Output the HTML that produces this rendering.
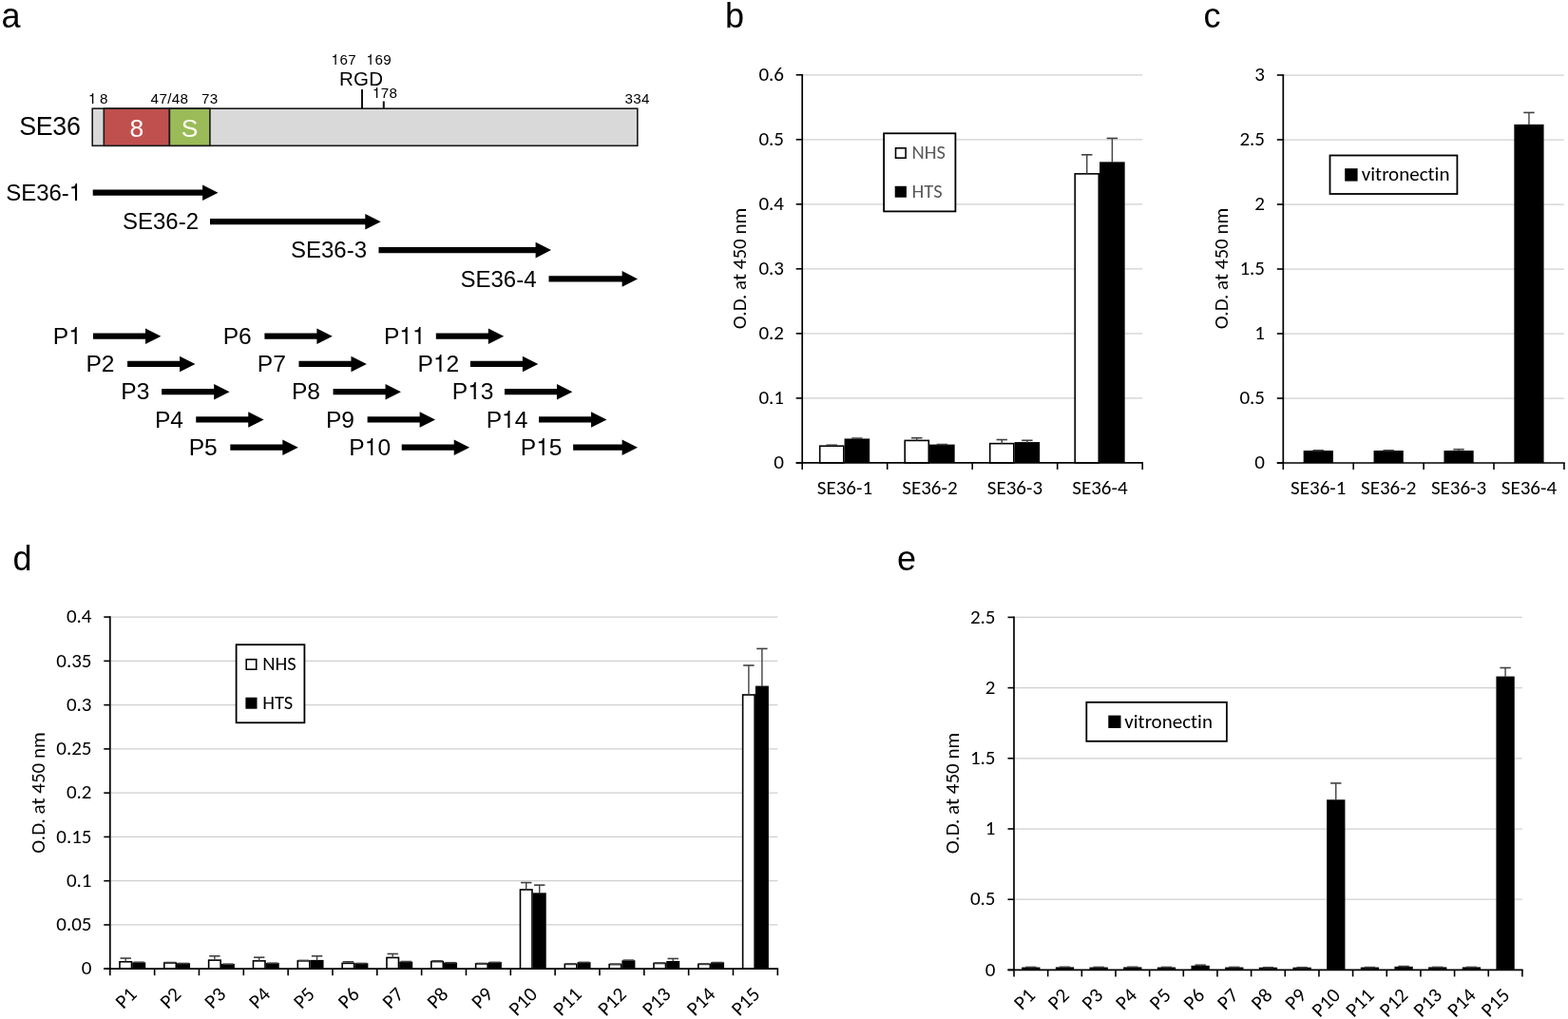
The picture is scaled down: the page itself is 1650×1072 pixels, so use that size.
<!DOCTYPE html>
<html><head><meta charset="utf-8"><title>SE36 figure</title>
<style>
html,body{margin:0;padding:0;background:#fff;}
body{width:1650px;height:1072px;overflow:hidden;}
svg{display:block;}
text{font-variant-ligatures:none;font-feature-settings:"liga" 0,"clig" 0;}
</style></head>
<body>
<svg width="1650" height="1072" viewBox="0 0 1650 1072">
<rect x="0" y="0" width="1650" height="1072" fill="#fff"/>
<text x="1.5" y="29" font-size="36" font-family="'Liberation Sans', Arial, sans-serif" text-anchor="start" fill="#000" >a</text>
<text x="763" y="28.8" font-size="36" font-family="'Liberation Sans', Arial, sans-serif" text-anchor="start" fill="#000" >b</text>
<text x="1266.5" y="29" font-size="36" font-family="'Liberation Sans', Arial, sans-serif" text-anchor="start" fill="#000" >c</text>
<text x="13.5" y="599.5" font-size="36" font-family="'Liberation Sans', Arial, sans-serif" text-anchor="start" fill="#000" >d</text>
<text x="944" y="599.8" font-size="36" font-family="'Liberation Sans', Arial, sans-serif" text-anchor="start" fill="#000" >e</text>
<rect x="97.2" y="114.2" width="573.6" height="39.1" fill="#D9D9D9" stroke="#1a1a1a" stroke-width="1.6"/>
<rect x="109.3" y="114.2" width="69.1" height="39.1" fill="#C0504D" stroke="#1a1a1a" stroke-width="1.6"/>
<rect x="178.4" y="114.2" width="42.5" height="39.1" fill="#9BBB59" stroke="#1a1a1a" stroke-width="1.6"/>
<text x="143.8" y="144.3" font-size="26.5" font-family="'Liberation Sans', Arial, sans-serif" text-anchor="middle" fill="#fff" >8</text>
<text x="199.6" y="144.3" font-size="26.5" font-family="'Liberation Sans', Arial, sans-serif" text-anchor="middle" fill="#fcfff0" >S</text>
<text x="20.2" y="142.3" font-size="26.8" font-family="'Liberation Sans', Arial, sans-serif" text-anchor="start" fill="#000" letter-spacing="-0.3">SE36</text>
<text x="93" y="108.6" font-size="15.2" font-family="'Liberation Sans', Arial, sans-serif" text-anchor="start" fill="#000" ><tspan font-family="FreeSans, 'TeX Gyre Heros', 'Liberation Sans', sans-serif">1</tspan></text>
<text x="105" y="108.6" font-size="15.2" font-family="'Liberation Sans', Arial, sans-serif" text-anchor="start" fill="#000" >8</text>
<text x="158.6" y="108.6" font-size="15.2" font-family="'Liberation Sans', Arial, sans-serif" text-anchor="start" fill="#000" letter-spacing="0.35">47/48</text>
<text x="212" y="108.6" font-size="15.2" font-family="'Liberation Sans', Arial, sans-serif" text-anchor="start" fill="#000" letter-spacing="0.35">73</text>
<text x="657.5" y="108.6" font-size="15.2" font-family="'Liberation Sans', Arial, sans-serif" text-anchor="start" fill="#000" letter-spacing="0.35">334</text>
<text x="348.6" y="68.3" font-size="15.2" font-family="'Liberation Sans', Arial, sans-serif" text-anchor="start" fill="#000" letter-spacing="0.35"><tspan font-family="FreeSans, 'TeX Gyre Heros', 'Liberation Sans', sans-serif">1</tspan>67</text>
<text x="385.6" y="68.3" font-size="15.2" font-family="'Liberation Sans', Arial, sans-serif" text-anchor="start" fill="#000" letter-spacing="0.35"><tspan font-family="FreeSans, 'TeX Gyre Heros', 'Liberation Sans', sans-serif">1</tspan>69</text>
<text x="391.9" y="103.2" font-size="15.2" font-family="'Liberation Sans', Arial, sans-serif" text-anchor="start" fill="#000" letter-spacing="0.35"><tspan font-family="FreeSans, 'TeX Gyre Heros', 'Liberation Sans', sans-serif">1</tspan>78</text>
<text x="357" y="89.8" font-size="20.5" font-family="'Liberation Sans', Arial, sans-serif" text-anchor="start" fill="#000" letter-spacing="0.3">RGD</text>
<line x1="381" y1="94" x2="381" y2="114" stroke="#111" stroke-width="2"/>
<line x1="403.8" y1="106.5" x2="403.8" y2="114" stroke="#111" stroke-width="2"/>
<polygon fill="#000" points="97.7,199.6 213.1,199.6 213.1,194.4 229.5,202.7 213.1,211 213.1,205.8 97.7,205.8"/>
<text transform="translate(86.2,210.9) scale(1.03,1)" x="0" y="0" font-size="23.3" font-family="'Liberation Sans', Arial, sans-serif" text-anchor="end" fill="#000" >SE36-<tspan font-family="FreeSans, 'TeX Gyre Heros', 'Liberation Sans', sans-serif">1</tspan></text>
<polygon fill="#000" points="221,230.1 384.3,230.1 384.3,224.9 400.7,233.2 384.3,241.5 384.3,236.3 221,236.3"/>
<text transform="translate(209,241.4) scale(1.03,1)" x="0" y="0" font-size="23.3" font-family="'Liberation Sans', Arial, sans-serif" text-anchor="end" fill="#000" >SE36-2</text>
<polygon fill="#000" points="398.5,260 563.6,260 563.6,254.8 580,263.1 563.6,271.4 563.6,266.2 398.5,266.2"/>
<text transform="translate(386,271.3) scale(1.03,1)" x="0" y="0" font-size="23.3" font-family="'Liberation Sans', Arial, sans-serif" text-anchor="end" fill="#000" >SE36-3</text>
<polygon fill="#000" points="577.5,290.3 654.6,290.3 654.6,285.1 671,293.4 654.6,301.7 654.6,296.5 577.5,296.5"/>
<text transform="translate(564.5,301.6) scale(1.03,1)" x="0" y="0" font-size="23.3" font-family="'Liberation Sans', Arial, sans-serif" text-anchor="end" fill="#000" >SE36-4</text>
<polygon fill="#000" points="98,350.6 153,350.6 153,345.4 169.4,353.7 153,362 153,356.8 98,356.8"/>
<text transform="translate(85.9,361.9) scale(1.07,1)" x="0" y="0" font-size="23" font-family="'Liberation Sans', Arial, sans-serif" text-anchor="end" fill="#000" >P<tspan font-family="FreeSans, 'TeX Gyre Heros', 'Liberation Sans', sans-serif">1</tspan></text>
<polygon fill="#000" points="134.08,379.85 189.08,379.85 189.08,374.65 205.48,382.95 189.08,391.25 189.08,386.05 134.08,386.05"/>
<text transform="translate(120.48,391.15) scale(1.07,1)" x="0" y="0" font-size="23" font-family="'Liberation Sans', Arial, sans-serif" text-anchor="end" fill="#000" >P2</text>
<polygon fill="#000" points="170.16,409.1 225.16,409.1 225.16,403.9 241.56,412.2 225.16,420.5 225.16,415.3 170.16,415.3"/>
<text transform="translate(157.36,420.4) scale(1.07,1)" x="0" y="0" font-size="23" font-family="'Liberation Sans', Arial, sans-serif" text-anchor="end" fill="#000" >P3</text>
<polygon fill="#000" points="206.24,438.35 261.24,438.35 261.24,433.15 277.64,441.45 261.24,449.75 261.24,444.55 206.24,444.55"/>
<text transform="translate(193.04,449.65) scale(1.07,1)" x="0" y="0" font-size="23" font-family="'Liberation Sans', Arial, sans-serif" text-anchor="end" fill="#000" >P4</text>
<polygon fill="#000" points="242.32,467.6 297.32,467.6 297.32,462.4 313.72,470.7 297.32,479 297.32,473.8 242.32,473.8"/>
<text transform="translate(228.72,478.9) scale(1.07,1)" x="0" y="0" font-size="23" font-family="'Liberation Sans', Arial, sans-serif" text-anchor="end" fill="#000" >P5</text>
<polygon fill="#000" points="278.4,350.6 333.4,350.6 333.4,345.4 349.8,353.7 333.4,362 333.4,356.8 278.4,356.8"/>
<text transform="translate(264.8,361.9) scale(1.07,1)" x="0" y="0" font-size="23" font-family="'Liberation Sans', Arial, sans-serif" text-anchor="end" fill="#000" >P6</text>
<polygon fill="#000" points="314.48,379.85 369.48,379.85 369.48,374.65 385.88,382.95 369.48,391.25 369.48,386.05 314.48,386.05"/>
<text transform="translate(300.88,391.15) scale(1.07,1)" x="0" y="0" font-size="23" font-family="'Liberation Sans', Arial, sans-serif" text-anchor="end" fill="#000" >P7</text>
<polygon fill="#000" points="350.56,409.1 405.56,409.1 405.56,403.9 421.96,412.2 405.56,420.5 405.56,415.3 350.56,415.3"/>
<text transform="translate(336.96,420.4) scale(1.07,1)" x="0" y="0" font-size="23" font-family="'Liberation Sans', Arial, sans-serif" text-anchor="end" fill="#000" >P8</text>
<polygon fill="#000" points="386.64,438.35 441.64,438.35 441.64,433.15 458.04,441.45 441.64,449.75 441.64,444.55 386.64,444.55"/>
<text transform="translate(373.04,449.65) scale(1.07,1)" x="0" y="0" font-size="23" font-family="'Liberation Sans', Arial, sans-serif" text-anchor="end" fill="#000" >P9</text>
<polygon fill="#000" points="422.72,467.6 477.72,467.6 477.72,462.4 494.12,470.7 477.72,479 477.72,473.8 422.72,473.8"/>
<text transform="translate(411.12,478.9) scale(1.07,1)" x="0" y="0" font-size="23" font-family="'Liberation Sans', Arial, sans-serif" text-anchor="end" fill="#000" >P<tspan font-family="FreeSans, 'TeX Gyre Heros', 'Liberation Sans', sans-serif">1</tspan>0</text>
<polygon fill="#000" points="458.8,350.6 513.8,350.6 513.8,345.4 530.2,353.7 513.8,362 513.8,356.8 458.8,356.8"/>
<text transform="translate(447.7,361.9) scale(1.07,1)" x="0" y="0" font-size="23" font-family="'Liberation Sans', Arial, sans-serif" text-anchor="end" fill="#000" >P<tspan font-family="FreeSans, 'TeX Gyre Heros', 'Liberation Sans', sans-serif">1</tspan><tspan font-family="FreeSans, 'TeX Gyre Heros', 'Liberation Sans', sans-serif">1</tspan></text>
<polygon fill="#000" points="494.88,379.85 549.88,379.85 549.88,374.65 566.28,382.95 549.88,391.25 549.88,386.05 494.88,386.05"/>
<text transform="translate(483.28,391.15) scale(1.07,1)" x="0" y="0" font-size="23" font-family="'Liberation Sans', Arial, sans-serif" text-anchor="end" fill="#000" >P<tspan font-family="FreeSans, 'TeX Gyre Heros', 'Liberation Sans', sans-serif">1</tspan>2</text>
<polygon fill="#000" points="530.96,409.1 585.96,409.1 585.96,403.9 602.36,412.2 585.96,420.5 585.96,415.3 530.96,415.3"/>
<text transform="translate(519.56,420.4) scale(1.07,1)" x="0" y="0" font-size="23" font-family="'Liberation Sans', Arial, sans-serif" text-anchor="end" fill="#000" >P<tspan font-family="FreeSans, 'TeX Gyre Heros', 'Liberation Sans', sans-serif">1</tspan>3</text>
<polygon fill="#000" points="567.04,438.35 622.04,438.35 622.04,433.15 638.44,441.45 622.04,449.75 622.04,444.55 567.04,444.55"/>
<text transform="translate(555.44,449.65) scale(1.07,1)" x="0" y="0" font-size="23" font-family="'Liberation Sans', Arial, sans-serif" text-anchor="end" fill="#000" >P<tspan font-family="FreeSans, 'TeX Gyre Heros', 'Liberation Sans', sans-serif">1</tspan>4</text>
<polygon fill="#000" points="603.12,467.6 654.6,467.6 654.6,462.4 671,470.7 654.6,479 654.6,473.8 603.12,473.8"/>
<text transform="translate(591.52,478.9) scale(1.07,1)" x="0" y="0" font-size="23" font-family="'Liberation Sans', Arial, sans-serif" text-anchor="end" fill="#000" >P<tspan font-family="FreeSans, 'TeX Gyre Heros', 'Liberation Sans', sans-serif">1</tspan>5</text>
<line x1="844.2" y1="418.88" x2="1202.2" y2="418.88" stroke="#D0D0D0" stroke-width="1.25"/>
<line x1="844.2" y1="350.87" x2="1202.2" y2="350.87" stroke="#D0D0D0" stroke-width="1.25"/>
<line x1="844.2" y1="282.85" x2="1202.2" y2="282.85" stroke="#D0D0D0" stroke-width="1.25"/>
<line x1="844.2" y1="214.83" x2="1202.2" y2="214.83" stroke="#D0D0D0" stroke-width="1.25"/>
<line x1="844.2" y1="146.82" x2="1202.2" y2="146.82" stroke="#D0D0D0" stroke-width="1.25"/>
<line x1="844.2" y1="78.8" x2="1202.2" y2="78.8" stroke="#D0D0D0" stroke-width="1.25"/>
<line x1="837.7" y1="486.9" x2="844.2" y2="486.9" stroke="#000" stroke-width="1.6"/>
<text x="825" y="493.1" font-size="21" font-family="Carlito, Calibri, 'Liberation Sans', sans-serif" text-anchor="end" fill="#000" >0</text>
<line x1="837.7" y1="418.88" x2="844.2" y2="418.88" stroke="#000" stroke-width="1.6"/>
<text x="825" y="425.08" font-size="21" font-family="Carlito, Calibri, 'Liberation Sans', sans-serif" text-anchor="end" fill="#000" >0.1</text>
<line x1="837.7" y1="350.87" x2="844.2" y2="350.87" stroke="#000" stroke-width="1.6"/>
<text x="825" y="357.07" font-size="21" font-family="Carlito, Calibri, 'Liberation Sans', sans-serif" text-anchor="end" fill="#000" >0.2</text>
<line x1="837.7" y1="282.85" x2="844.2" y2="282.85" stroke="#000" stroke-width="1.6"/>
<text x="825" y="289.05" font-size="21" font-family="Carlito, Calibri, 'Liberation Sans', sans-serif" text-anchor="end" fill="#000" >0.3</text>
<line x1="837.7" y1="214.83" x2="844.2" y2="214.83" stroke="#000" stroke-width="1.6"/>
<text x="825" y="221.03" font-size="21" font-family="Carlito, Calibri, 'Liberation Sans', sans-serif" text-anchor="end" fill="#000" >0.4</text>
<line x1="837.7" y1="146.82" x2="844.2" y2="146.82" stroke="#000" stroke-width="1.6"/>
<text x="825" y="153.02" font-size="21" font-family="Carlito, Calibri, 'Liberation Sans', sans-serif" text-anchor="end" fill="#000" >0.5</text>
<line x1="837.7" y1="78.8" x2="844.2" y2="78.8" stroke="#000" stroke-width="1.6"/>
<text x="825" y="85" font-size="21" font-family="Carlito, Calibri, 'Liberation Sans', sans-serif" text-anchor="end" fill="#000" >0.6</text>
<rect x="862.7" y="469.22" width="25.1" height="17.68" fill="#fff" stroke="#000" stroke-width="1.6"/>
<line x1="875.25" y1="469.22" x2="875.25" y2="468.2" stroke="#404040" stroke-width="1.4"/>
<line x1="869.55" y1="468.2" x2="880.95" y2="468.2" stroke="#404040" stroke-width="1.6"/>
<rect x="888.55" y="461.47" width="26.6" height="25.43" fill="#000"/>
<line x1="901.85" y1="462.07" x2="901.85" y2="461.05" stroke="#404040" stroke-width="1.4"/>
<line x1="896.15" y1="461.05" x2="907.55" y2="461.05" stroke="#404040" stroke-width="1.6"/>
<rect x="952.2" y="463.43" width="25.1" height="23.47" fill="#fff" stroke="#000" stroke-width="1.6"/>
<line x1="964.75" y1="463.43" x2="964.75" y2="460.71" stroke="#404040" stroke-width="1.4"/>
<line x1="959.05" y1="460.71" x2="970.45" y2="460.71" stroke="#404040" stroke-width="1.6"/>
<rect x="978.05" y="467.6" width="26.6" height="19.3" fill="#000"/>
<line x1="991.35" y1="468.2" x2="991.35" y2="467.52" stroke="#404040" stroke-width="1.4"/>
<line x1="985.65" y1="467.52" x2="997.05" y2="467.52" stroke="#404040" stroke-width="1.6"/>
<rect x="1041.7" y="466.63" width="25.1" height="20.27" fill="#fff" stroke="#000" stroke-width="1.6"/>
<line x1="1054.25" y1="466.63" x2="1054.25" y2="462.55" stroke="#404040" stroke-width="1.4"/>
<line x1="1048.55" y1="462.55" x2="1059.95" y2="462.55" stroke="#404040" stroke-width="1.6"/>
<rect x="1067.55" y="465.08" width="26.6" height="21.82" fill="#000"/>
<line x1="1080.85" y1="465.68" x2="1080.85" y2="463.3" stroke="#404040" stroke-width="1.4"/>
<line x1="1075.15" y1="463.3" x2="1086.55" y2="463.3" stroke="#404040" stroke-width="1.6"/>
<rect x="1131.2" y="182.87" width="25.1" height="304.03" fill="#fff" stroke="#000" stroke-width="1.6"/>
<line x1="1143.75" y1="182.87" x2="1143.75" y2="162.8" stroke="#404040" stroke-width="1.4"/>
<line x1="1138.05" y1="162.8" x2="1149.45" y2="162.8" stroke="#404040" stroke-width="1.6"/>
<rect x="1157.05" y="170.36" width="26.6" height="316.54" fill="#000"/>
<line x1="1170.35" y1="170.96" x2="1170.35" y2="145.46" stroke="#404040" stroke-width="1.4"/>
<line x1="1164.65" y1="145.46" x2="1176.05" y2="145.46" stroke="#404040" stroke-width="1.6"/>
<line x1="844.2" y1="486.9" x2="844.2" y2="78" stroke="#000" stroke-width="1.7"/>
<line x1="837.7" y1="486.9" x2="1203" y2="486.9" stroke="#000" stroke-width="1.7"/>
<line x1="844.2" y1="486.9" x2="844.2" y2="493.9" stroke="#000" stroke-width="1.6"/>
<line x1="933.7" y1="486.9" x2="933.7" y2="493.9" stroke="#000" stroke-width="1.6"/>
<line x1="1023.2" y1="486.9" x2="1023.2" y2="493.9" stroke="#000" stroke-width="1.6"/>
<line x1="1112.7" y1="486.9" x2="1112.7" y2="493.9" stroke="#000" stroke-width="1.6"/>
<line x1="1202.2" y1="486.9" x2="1202.2" y2="493.9" stroke="#000" stroke-width="1.6"/>
<text x="888.95" y="520" font-size="21" font-family="Carlito, Calibri, 'Liberation Sans', sans-serif" text-anchor="middle" fill="#000" >SE36-1</text>
<text x="978.45" y="520" font-size="21" font-family="Carlito, Calibri, 'Liberation Sans', sans-serif" text-anchor="middle" fill="#000" >SE36-2</text>
<text x="1067.95" y="520" font-size="21" font-family="Carlito, Calibri, 'Liberation Sans', sans-serif" text-anchor="middle" fill="#000" >SE36-3</text>
<text x="1157.45" y="520" font-size="21" font-family="Carlito, Calibri, 'Liberation Sans', sans-serif" text-anchor="middle" fill="#000" >SE36-4</text>
<text transform="translate(784.6,282.5) rotate(-90)" x="0" y="0" font-size="21" font-family="Carlito, Calibri, 'Liberation Sans', sans-serif" text-anchor="middle" fill="#000">O.D. at 450 nm</text>
<rect x="930.1" y="140.3" width="75.3" height="82.1" fill="#fff" stroke="#000" stroke-width="1.8"/>
<rect x="942.5" y="155.8" width="10.6" height="10.4" fill="#fff" stroke="#000" stroke-width="1.6"/>
<rect x="941.7" y="195.8" width="12.2" height="11.9" fill="#000"/>
<text x="959.5" y="167" font-size="20.5" font-family="Carlito, Calibri, 'Liberation Sans', sans-serif" text-anchor="start" fill="#595959" >NHS</text>
<text x="959.5" y="207.8" font-size="20.5" font-family="Carlito, Calibri, 'Liberation Sans', sans-serif" text-anchor="start" fill="#595959" >HTS</text>
<line x1="1350.3" y1="419" x2="1645.9" y2="419" stroke="#D0D0D0" stroke-width="1.25"/>
<line x1="1350.3" y1="351" x2="1645.9" y2="351" stroke="#D0D0D0" stroke-width="1.25"/>
<line x1="1350.3" y1="283" x2="1645.9" y2="283" stroke="#D0D0D0" stroke-width="1.25"/>
<line x1="1350.3" y1="215" x2="1645.9" y2="215" stroke="#D0D0D0" stroke-width="1.25"/>
<line x1="1350.3" y1="147" x2="1645.9" y2="147" stroke="#D0D0D0" stroke-width="1.25"/>
<line x1="1350.3" y1="79" x2="1645.9" y2="79" stroke="#D0D0D0" stroke-width="1.25"/>
<line x1="1343.8" y1="487" x2="1350.3" y2="487" stroke="#000" stroke-width="1.6"/>
<text x="1331" y="493.2" font-size="21" font-family="Carlito, Calibri, 'Liberation Sans', sans-serif" text-anchor="end" fill="#000" >0</text>
<line x1="1343.8" y1="419" x2="1350.3" y2="419" stroke="#000" stroke-width="1.6"/>
<text x="1331" y="425.2" font-size="21" font-family="Carlito, Calibri, 'Liberation Sans', sans-serif" text-anchor="end" fill="#000" >0.5</text>
<line x1="1343.8" y1="351" x2="1350.3" y2="351" stroke="#000" stroke-width="1.6"/>
<text x="1331" y="357.2" font-size="21" font-family="Carlito, Calibri, 'Liberation Sans', sans-serif" text-anchor="end" fill="#000" >1</text>
<line x1="1343.8" y1="283" x2="1350.3" y2="283" stroke="#000" stroke-width="1.6"/>
<text x="1331" y="289.2" font-size="21" font-family="Carlito, Calibri, 'Liberation Sans', sans-serif" text-anchor="end" fill="#000" >1.5</text>
<line x1="1343.8" y1="215" x2="1350.3" y2="215" stroke="#000" stroke-width="1.6"/>
<text x="1331" y="221.2" font-size="21" font-family="Carlito, Calibri, 'Liberation Sans', sans-serif" text-anchor="end" fill="#000" >2</text>
<line x1="1343.8" y1="147" x2="1350.3" y2="147" stroke="#000" stroke-width="1.6"/>
<text x="1331" y="153.2" font-size="21" font-family="Carlito, Calibri, 'Liberation Sans', sans-serif" text-anchor="end" fill="#000" >2.5</text>
<line x1="1343.8" y1="79" x2="1350.3" y2="79" stroke="#000" stroke-width="1.6"/>
<text x="1331" y="85.2" font-size="21" font-family="Carlito, Calibri, 'Liberation Sans', sans-serif" text-anchor="end" fill="#000" >3</text>
<rect x="1371.65" y="474.02" width="31.2" height="12.98" fill="#000"/>
<line x1="1387.25" y1="474.62" x2="1387.25" y2="473.81" stroke="#404040" stroke-width="1.4"/>
<line x1="1381.55" y1="473.81" x2="1392.95" y2="473.81" stroke="#404040" stroke-width="1.6"/>
<rect x="1445.55" y="474.02" width="31.2" height="12.98" fill="#000"/>
<line x1="1461.15" y1="474.62" x2="1461.15" y2="473.81" stroke="#404040" stroke-width="1.4"/>
<line x1="1455.45" y1="473.81" x2="1466.85" y2="473.81" stroke="#404040" stroke-width="1.6"/>
<rect x="1519.45" y="474.02" width="31.2" height="12.98" fill="#000"/>
<line x1="1535.05" y1="474.62" x2="1535.05" y2="472.72" stroke="#404040" stroke-width="1.4"/>
<line x1="1529.35" y1="472.72" x2="1540.75" y2="472.72" stroke="#404040" stroke-width="1.6"/>
<rect x="1593.35" y="130.9" width="31.2" height="356.1" fill="#000"/>
<line x1="1608.95" y1="131.5" x2="1608.95" y2="118.44" stroke="#404040" stroke-width="1.4"/>
<line x1="1603.25" y1="118.44" x2="1614.65" y2="118.44" stroke="#404040" stroke-width="1.6"/>
<line x1="1350.3" y1="487" x2="1350.3" y2="78.2" stroke="#000" stroke-width="1.7"/>
<line x1="1343.8" y1="487" x2="1646.7" y2="487" stroke="#000" stroke-width="1.7"/>
<line x1="1350.3" y1="487" x2="1350.3" y2="494" stroke="#000" stroke-width="1.6"/>
<line x1="1424.2" y1="487" x2="1424.2" y2="494" stroke="#000" stroke-width="1.6"/>
<line x1="1498.1" y1="487" x2="1498.1" y2="494" stroke="#000" stroke-width="1.6"/>
<line x1="1572" y1="487" x2="1572" y2="494" stroke="#000" stroke-width="1.6"/>
<line x1="1645.9" y1="487" x2="1645.9" y2="494" stroke="#000" stroke-width="1.6"/>
<text x="1387.25" y="519.5" font-size="21" font-family="Carlito, Calibri, 'Liberation Sans', sans-serif" text-anchor="middle" fill="#000" >SE36-1</text>
<text x="1461.15" y="519.5" font-size="21" font-family="Carlito, Calibri, 'Liberation Sans', sans-serif" text-anchor="middle" fill="#000" >SE36-2</text>
<text x="1535.05" y="519.5" font-size="21" font-family="Carlito, Calibri, 'Liberation Sans', sans-serif" text-anchor="middle" fill="#000" >SE36-3</text>
<text x="1608.95" y="519.5" font-size="21" font-family="Carlito, Calibri, 'Liberation Sans', sans-serif" text-anchor="middle" fill="#000" >SE36-4</text>
<text transform="translate(1292.4,282.5) rotate(-90)" x="0" y="0" font-size="21" font-family="Carlito, Calibri, 'Liberation Sans', sans-serif" text-anchor="middle" fill="#000">O.D. at 450 nm</text>
<rect x="1399.5" y="163.5" width="133.9" height="40.5" fill="#fff" stroke="#000" stroke-width="1.8"/>
<rect x="1415.2" y="177.2" width="13.4" height="13.4" fill="#000"/>
<text x="1432.8" y="190.1" font-size="21" font-family="Carlito, Calibri, 'Liberation Sans', sans-serif" text-anchor="start" fill="#000" >vitronectin</text>
<line x1="115.8" y1="972.94" x2="818.3" y2="972.94" stroke="#D0D0D0" stroke-width="1.25"/>
<line x1="115.8" y1="926.68" x2="818.3" y2="926.68" stroke="#D0D0D0" stroke-width="1.25"/>
<line x1="115.8" y1="880.41" x2="818.3" y2="880.41" stroke="#D0D0D0" stroke-width="1.25"/>
<line x1="115.8" y1="834.15" x2="818.3" y2="834.15" stroke="#D0D0D0" stroke-width="1.25"/>
<line x1="115.8" y1="787.89" x2="818.3" y2="787.89" stroke="#D0D0D0" stroke-width="1.25"/>
<line x1="115.8" y1="741.62" x2="818.3" y2="741.62" stroke="#D0D0D0" stroke-width="1.25"/>
<line x1="115.8" y1="695.36" x2="818.3" y2="695.36" stroke="#D0D0D0" stroke-width="1.25"/>
<line x1="115.8" y1="649.1" x2="818.3" y2="649.1" stroke="#D0D0D0" stroke-width="1.25"/>
<line x1="109.3" y1="1019.2" x2="115.8" y2="1019.2" stroke="#000" stroke-width="1.6"/>
<text x="96.5" y="1025.4" font-size="21" font-family="Carlito, Calibri, 'Liberation Sans', sans-serif" text-anchor="end" fill="#000" >0</text>
<line x1="109.3" y1="972.94" x2="115.8" y2="972.94" stroke="#000" stroke-width="1.6"/>
<text x="96.5" y="979.14" font-size="21" font-family="Carlito, Calibri, 'Liberation Sans', sans-serif" text-anchor="end" fill="#000" >0.05</text>
<line x1="109.3" y1="926.68" x2="115.8" y2="926.68" stroke="#000" stroke-width="1.6"/>
<text x="96.5" y="932.88" font-size="21" font-family="Carlito, Calibri, 'Liberation Sans', sans-serif" text-anchor="end" fill="#000" >0.1</text>
<line x1="109.3" y1="880.41" x2="115.8" y2="880.41" stroke="#000" stroke-width="1.6"/>
<text x="96.5" y="886.61" font-size="21" font-family="Carlito, Calibri, 'Liberation Sans', sans-serif" text-anchor="end" fill="#000" >0.15</text>
<line x1="109.3" y1="834.15" x2="115.8" y2="834.15" stroke="#000" stroke-width="1.6"/>
<text x="96.5" y="840.35" font-size="21" font-family="Carlito, Calibri, 'Liberation Sans', sans-serif" text-anchor="end" fill="#000" >0.2</text>
<line x1="109.3" y1="787.89" x2="115.8" y2="787.89" stroke="#000" stroke-width="1.6"/>
<text x="96.5" y="794.09" font-size="21" font-family="Carlito, Calibri, 'Liberation Sans', sans-serif" text-anchor="end" fill="#000" >0.25</text>
<line x1="109.3" y1="741.62" x2="115.8" y2="741.62" stroke="#000" stroke-width="1.6"/>
<text x="96.5" y="747.83" font-size="21" font-family="Carlito, Calibri, 'Liberation Sans', sans-serif" text-anchor="end" fill="#000" >0.3</text>
<line x1="109.3" y1="695.36" x2="115.8" y2="695.36" stroke="#000" stroke-width="1.6"/>
<text x="96.5" y="701.56" font-size="21" font-family="Carlito, Calibri, 'Liberation Sans', sans-serif" text-anchor="end" fill="#000" >0.35</text>
<line x1="109.3" y1="649.1" x2="115.8" y2="649.1" stroke="#000" stroke-width="1.6"/>
<text x="96.5" y="655.3" font-size="21" font-family="Carlito, Calibri, 'Liberation Sans', sans-serif" text-anchor="end" fill="#000" >0.4</text>
<rect x="125.97" y="1011.8" width="12.5" height="7.4" fill="#fff" stroke="#000" stroke-width="1.6"/>
<line x1="132.22" y1="1011.8" x2="132.22" y2="1008.1" stroke="#404040" stroke-width="1.4"/>
<line x1="126.52" y1="1008.1" x2="137.92" y2="1008.1" stroke="#404040" stroke-width="1.6"/>
<rect x="139.22" y="1012.4" width="14" height="6.8" fill="#000"/>
<line x1="146.22" y1="1013" x2="146.22" y2="1012.26" stroke="#404040" stroke-width="1.4"/>
<line x1="140.52" y1="1012.26" x2="151.92" y2="1012.26" stroke="#404040" stroke-width="1.6"/>
<rect x="172.8" y="1013" width="12.5" height="6.2" fill="#fff" stroke="#000" stroke-width="1.6"/>
<line x1="179.05" y1="1013" x2="179.05" y2="1012.54" stroke="#404040" stroke-width="1.4"/>
<line x1="173.35" y1="1012.54" x2="184.75" y2="1012.54" stroke="#404040" stroke-width="1.6"/>
<rect x="186.05" y="1013.23" width="14" height="5.97" fill="#000"/>
<line x1="193.05" y1="1013.83" x2="193.05" y2="1013.46" stroke="#404040" stroke-width="1.4"/>
<line x1="187.35" y1="1013.46" x2="198.75" y2="1013.46" stroke="#404040" stroke-width="1.6"/>
<rect x="219.63" y="1010.13" width="12.5" height="9.07" fill="#fff" stroke="#000" stroke-width="1.6"/>
<line x1="225.88" y1="1010.13" x2="225.88" y2="1005.78" stroke="#404040" stroke-width="1.4"/>
<line x1="220.18" y1="1005.78" x2="231.58" y2="1005.78" stroke="#404040" stroke-width="1.6"/>
<rect x="232.88" y="1013.97" width="14" height="5.23" fill="#000"/>
<line x1="239.88" y1="1014.57" x2="239.88" y2="1014.2" stroke="#404040" stroke-width="1.4"/>
<line x1="234.18" y1="1014.2" x2="245.58" y2="1014.2" stroke="#404040" stroke-width="1.6"/>
<rect x="266.47" y="1010.87" width="12.5" height="8.33" fill="#fff" stroke="#000" stroke-width="1.6"/>
<line x1="272.72" y1="1010.87" x2="272.72" y2="1007.17" stroke="#404040" stroke-width="1.4"/>
<line x1="267.02" y1="1007.17" x2="278.42" y2="1007.17" stroke="#404040" stroke-width="1.6"/>
<rect x="279.72" y="1013.05" width="14" height="6.15" fill="#000"/>
<line x1="286.72" y1="1013.65" x2="286.72" y2="1013.19" stroke="#404040" stroke-width="1.4"/>
<line x1="281.02" y1="1013.19" x2="292.42" y2="1013.19" stroke="#404040" stroke-width="1.6"/>
<rect x="313.3" y="1010.87" width="12.5" height="8.33" fill="#fff" stroke="#000" stroke-width="1.6"/>
<line x1="319.55" y1="1010.87" x2="319.55" y2="1010.41" stroke="#404040" stroke-width="1.4"/>
<line x1="313.85" y1="1010.41" x2="325.25" y2="1010.41" stroke="#404040" stroke-width="1.6"/>
<rect x="326.55" y="1009.9" width="14" height="9.3" fill="#000"/>
<line x1="333.55" y1="1010.5" x2="333.55" y2="1005.78" stroke="#404040" stroke-width="1.4"/>
<line x1="327.85" y1="1005.78" x2="339.25" y2="1005.78" stroke="#404040" stroke-width="1.6"/>
<rect x="360.13" y="1013.37" width="12.5" height="5.83" fill="#fff" stroke="#000" stroke-width="1.6"/>
<line x1="366.38" y1="1013.37" x2="366.38" y2="1011.8" stroke="#404040" stroke-width="1.4"/>
<line x1="360.68" y1="1011.8" x2="372.08" y2="1011.8" stroke="#404040" stroke-width="1.6"/>
<rect x="373.38" y="1013.23" width="14" height="5.97" fill="#000"/>
<line x1="380.38" y1="1013.83" x2="380.38" y2="1013.46" stroke="#404040" stroke-width="1.4"/>
<line x1="374.68" y1="1013.46" x2="386.08" y2="1013.46" stroke="#404040" stroke-width="1.6"/>
<rect x="406.97" y="1007.45" width="12.5" height="11.75" fill="#fff" stroke="#000" stroke-width="1.6"/>
<line x1="413.22" y1="1007.45" x2="413.22" y2="1003.47" stroke="#404040" stroke-width="1.4"/>
<line x1="407.52" y1="1003.47" x2="418.92" y2="1003.47" stroke="#404040" stroke-width="1.6"/>
<rect x="420.22" y="1011.66" width="14" height="7.54" fill="#000"/>
<line x1="427.22" y1="1012.26" x2="427.22" y2="1011.52" stroke="#404040" stroke-width="1.4"/>
<line x1="421.52" y1="1011.52" x2="432.92" y2="1011.52" stroke="#404040" stroke-width="1.6"/>
<rect x="453.8" y="1011.61" width="12.5" height="7.59" fill="#fff" stroke="#000" stroke-width="1.6"/>
<line x1="460.05" y1="1011.61" x2="460.05" y2="1010.87" stroke="#404040" stroke-width="1.4"/>
<line x1="454.35" y1="1010.87" x2="465.75" y2="1010.87" stroke="#404040" stroke-width="1.6"/>
<rect x="467.05" y="1012.59" width="14" height="6.61" fill="#000"/>
<line x1="474.05" y1="1013.19" x2="474.05" y2="1012.72" stroke="#404040" stroke-width="1.4"/>
<line x1="468.35" y1="1012.72" x2="479.75" y2="1012.72" stroke="#404040" stroke-width="1.6"/>
<rect x="500.63" y="1013.93" width="12.5" height="5.27" fill="#fff" stroke="#000" stroke-width="1.6"/>
<line x1="506.88" y1="1013.93" x2="506.88" y2="1013.46" stroke="#404040" stroke-width="1.4"/>
<line x1="501.18" y1="1013.46" x2="512.58" y2="1013.46" stroke="#404040" stroke-width="1.6"/>
<rect x="513.88" y="1012.12" width="14" height="7.08" fill="#000"/>
<line x1="520.88" y1="1012.72" x2="520.88" y2="1012.35" stroke="#404040" stroke-width="1.4"/>
<line x1="515.18" y1="1012.35" x2="526.58" y2="1012.35" stroke="#404040" stroke-width="1.6"/>
<rect x="547.47" y="935.93" width="12.5" height="83.27" fill="#fff" stroke="#000" stroke-width="1.6"/>
<line x1="553.72" y1="935.93" x2="553.72" y2="928.53" stroke="#404040" stroke-width="1.4"/>
<line x1="548.02" y1="928.53" x2="559.42" y2="928.53" stroke="#404040" stroke-width="1.6"/>
<rect x="560.72" y="939.31" width="14" height="79.89" fill="#000"/>
<line x1="567.72" y1="939.91" x2="567.72" y2="931.12" stroke="#404040" stroke-width="1.4"/>
<line x1="562.02" y1="931.12" x2="573.42" y2="931.12" stroke="#404040" stroke-width="1.6"/>
<rect x="594.3" y="1014.39" width="12.5" height="4.81" fill="#fff" stroke="#000" stroke-width="1.6"/>
<line x1="600.55" y1="1014.39" x2="600.55" y2="1014.02" stroke="#404040" stroke-width="1.4"/>
<line x1="594.85" y1="1014.02" x2="606.25" y2="1014.02" stroke="#404040" stroke-width="1.6"/>
<rect x="607.55" y="1012.12" width="14" height="7.08" fill="#000"/>
<line x1="614.55" y1="1012.72" x2="614.55" y2="1012.35" stroke="#404040" stroke-width="1.4"/>
<line x1="608.85" y1="1012.35" x2="620.25" y2="1012.35" stroke="#404040" stroke-width="1.6"/>
<rect x="641.13" y="1014.57" width="12.5" height="4.63" fill="#fff" stroke="#000" stroke-width="1.6"/>
<line x1="647.38" y1="1014.57" x2="647.38" y2="1014.2" stroke="#404040" stroke-width="1.4"/>
<line x1="641.68" y1="1014.2" x2="653.08" y2="1014.2" stroke="#404040" stroke-width="1.6"/>
<rect x="654.38" y="1010.27" width="14" height="8.93" fill="#000"/>
<line x1="661.38" y1="1010.87" x2="661.38" y2="1010.13" stroke="#404040" stroke-width="1.4"/>
<line x1="655.68" y1="1010.13" x2="667.08" y2="1010.13" stroke="#404040" stroke-width="1.6"/>
<rect x="687.97" y="1013.46" width="12.5" height="5.74" fill="#fff" stroke="#000" stroke-width="1.6"/>
<line x1="694.22" y1="1013.46" x2="694.22" y2="1013" stroke="#404040" stroke-width="1.4"/>
<line x1="688.52" y1="1013" x2="699.92" y2="1013" stroke="#404040" stroke-width="1.6"/>
<rect x="701.22" y="1011.01" width="14" height="8.19" fill="#000"/>
<line x1="708.22" y1="1011.61" x2="708.22" y2="1008.47" stroke="#404040" stroke-width="1.4"/>
<line x1="702.52" y1="1008.47" x2="713.92" y2="1008.47" stroke="#404040" stroke-width="1.6"/>
<rect x="734.8" y="1014.39" width="12.5" height="4.81" fill="#fff" stroke="#000" stroke-width="1.6"/>
<line x1="741.05" y1="1014.39" x2="741.05" y2="1014.02" stroke="#404040" stroke-width="1.4"/>
<line x1="735.35" y1="1014.02" x2="746.75" y2="1014.02" stroke="#404040" stroke-width="1.6"/>
<rect x="748.05" y="1012.31" width="14" height="6.89" fill="#000"/>
<line x1="755.05" y1="1012.91" x2="755.05" y2="1012.54" stroke="#404040" stroke-width="1.4"/>
<line x1="749.35" y1="1012.54" x2="760.75" y2="1012.54" stroke="#404040" stroke-width="1.6"/>
<rect x="781.63" y="730.98" width="12.5" height="288.22" fill="#fff" stroke="#000" stroke-width="1.6"/>
<line x1="787.88" y1="730.98" x2="787.88" y2="699.99" stroke="#404040" stroke-width="1.4"/>
<line x1="782.18" y1="699.99" x2="793.58" y2="699.99" stroke="#404040" stroke-width="1.6"/>
<rect x="794.88" y="721.59" width="14" height="297.61" fill="#000"/>
<line x1="801.88" y1="722.19" x2="801.88" y2="682.41" stroke="#404040" stroke-width="1.4"/>
<line x1="796.18" y1="682.41" x2="807.58" y2="682.41" stroke="#404040" stroke-width="1.6"/>
<line x1="115.8" y1="1019.2" x2="115.8" y2="648.3" stroke="#000" stroke-width="1.7"/>
<line x1="109.3" y1="1019.2" x2="819.1" y2="1019.2" stroke="#000" stroke-width="1.7"/>
<line x1="115.8" y1="1019.2" x2="115.8" y2="1026.2" stroke="#000" stroke-width="1.6"/>
<line x1="162.63" y1="1019.2" x2="162.63" y2="1026.2" stroke="#000" stroke-width="1.6"/>
<line x1="209.47" y1="1019.2" x2="209.47" y2="1026.2" stroke="#000" stroke-width="1.6"/>
<line x1="256.3" y1="1019.2" x2="256.3" y2="1026.2" stroke="#000" stroke-width="1.6"/>
<line x1="303.13" y1="1019.2" x2="303.13" y2="1026.2" stroke="#000" stroke-width="1.6"/>
<line x1="349.97" y1="1019.2" x2="349.97" y2="1026.2" stroke="#000" stroke-width="1.6"/>
<line x1="396.8" y1="1019.2" x2="396.8" y2="1026.2" stroke="#000" stroke-width="1.6"/>
<line x1="443.63" y1="1019.2" x2="443.63" y2="1026.2" stroke="#000" stroke-width="1.6"/>
<line x1="490.47" y1="1019.2" x2="490.47" y2="1026.2" stroke="#000" stroke-width="1.6"/>
<line x1="537.3" y1="1019.2" x2="537.3" y2="1026.2" stroke="#000" stroke-width="1.6"/>
<line x1="584.13" y1="1019.2" x2="584.13" y2="1026.2" stroke="#000" stroke-width="1.6"/>
<line x1="630.97" y1="1019.2" x2="630.97" y2="1026.2" stroke="#000" stroke-width="1.6"/>
<line x1="677.8" y1="1019.2" x2="677.8" y2="1026.2" stroke="#000" stroke-width="1.6"/>
<line x1="724.63" y1="1019.2" x2="724.63" y2="1026.2" stroke="#000" stroke-width="1.6"/>
<line x1="771.47" y1="1019.2" x2="771.47" y2="1026.2" stroke="#000" stroke-width="1.6"/>
<line x1="818.3" y1="1019.2" x2="818.3" y2="1026.2" stroke="#000" stroke-width="1.6"/>
<text transform="translate(145.02,1047.1) rotate(-45)" x="0" y="0" font-size="21" font-family="Carlito, Calibri, 'Liberation Sans', sans-serif" text-anchor="end" fill="#000">P1</text>
<text transform="translate(191.85,1047.1) rotate(-45)" x="0" y="0" font-size="21" font-family="Carlito, Calibri, 'Liberation Sans', sans-serif" text-anchor="end" fill="#000">P2</text>
<text transform="translate(238.68,1047.1) rotate(-45)" x="0" y="0" font-size="21" font-family="Carlito, Calibri, 'Liberation Sans', sans-serif" text-anchor="end" fill="#000">P3</text>
<text transform="translate(285.52,1047.1) rotate(-45)" x="0" y="0" font-size="21" font-family="Carlito, Calibri, 'Liberation Sans', sans-serif" text-anchor="end" fill="#000">P4</text>
<text transform="translate(332.35,1047.1) rotate(-45)" x="0" y="0" font-size="21" font-family="Carlito, Calibri, 'Liberation Sans', sans-serif" text-anchor="end" fill="#000">P5</text>
<text transform="translate(379.18,1047.1) rotate(-45)" x="0" y="0" font-size="21" font-family="Carlito, Calibri, 'Liberation Sans', sans-serif" text-anchor="end" fill="#000">P6</text>
<text transform="translate(426.02,1047.1) rotate(-45)" x="0" y="0" font-size="21" font-family="Carlito, Calibri, 'Liberation Sans', sans-serif" text-anchor="end" fill="#000">P7</text>
<text transform="translate(472.85,1047.1) rotate(-45)" x="0" y="0" font-size="21" font-family="Carlito, Calibri, 'Liberation Sans', sans-serif" text-anchor="end" fill="#000">P8</text>
<text transform="translate(519.68,1047.1) rotate(-45)" x="0" y="0" font-size="21" font-family="Carlito, Calibri, 'Liberation Sans', sans-serif" text-anchor="end" fill="#000">P9</text>
<text transform="translate(566.52,1047.1) rotate(-45)" x="0" y="0" font-size="21" font-family="Carlito, Calibri, 'Liberation Sans', sans-serif" text-anchor="end" fill="#000">P10</text>
<text transform="translate(613.35,1047.1) rotate(-45)" x="0" y="0" font-size="21" font-family="Carlito, Calibri, 'Liberation Sans', sans-serif" text-anchor="end" fill="#000">P11</text>
<text transform="translate(660.18,1047.1) rotate(-45)" x="0" y="0" font-size="21" font-family="Carlito, Calibri, 'Liberation Sans', sans-serif" text-anchor="end" fill="#000">P12</text>
<text transform="translate(707.02,1047.1) rotate(-45)" x="0" y="0" font-size="21" font-family="Carlito, Calibri, 'Liberation Sans', sans-serif" text-anchor="end" fill="#000">P13</text>
<text transform="translate(753.85,1047.1) rotate(-45)" x="0" y="0" font-size="21" font-family="Carlito, Calibri, 'Liberation Sans', sans-serif" text-anchor="end" fill="#000">P14</text>
<text transform="translate(800.68,1047.1) rotate(-45)" x="0" y="0" font-size="21" font-family="Carlito, Calibri, 'Liberation Sans', sans-serif" text-anchor="end" fill="#000">P15</text>
<text transform="translate(47,834) rotate(-90)" x="0" y="0" font-size="21" font-family="Carlito, Calibri, 'Liberation Sans', sans-serif" text-anchor="middle" fill="#000">O.D. at 450 nm</text>
<rect x="248.6" y="678.2" width="71.8" height="82.1" fill="#fff" stroke="#000" stroke-width="1.8"/>
<rect x="259.2" y="693.7" width="10.5" height="10.5" fill="#fff" stroke="#000" stroke-width="1.6"/>
<rect x="258.4" y="733.7" width="12.1" height="12.0" fill="#000"/>
<text x="276.2" y="705" font-size="20.5" font-family="Carlito, Calibri, 'Liberation Sans', sans-serif" text-anchor="start" fill="#000" >NHS</text>
<text x="276.2" y="745.7" font-size="20.5" font-family="Carlito, Calibri, 'Liberation Sans', sans-serif" text-anchor="start" fill="#000" >HTS</text>
<line x1="1067" y1="946.2" x2="1601.9" y2="946.2" stroke="#D0D0D0" stroke-width="1.25"/>
<line x1="1067" y1="872" x2="1601.9" y2="872" stroke="#D0D0D0" stroke-width="1.25"/>
<line x1="1067" y1="797.8" x2="1601.9" y2="797.8" stroke="#D0D0D0" stroke-width="1.25"/>
<line x1="1067" y1="723.6" x2="1601.9" y2="723.6" stroke="#D0D0D0" stroke-width="1.25"/>
<line x1="1067" y1="649.4" x2="1601.9" y2="649.4" stroke="#D0D0D0" stroke-width="1.25"/>
<line x1="1060.5" y1="1020.4" x2="1067" y2="1020.4" stroke="#000" stroke-width="1.6"/>
<text x="1047.5" y="1026.6" font-size="21" font-family="Carlito, Calibri, 'Liberation Sans', sans-serif" text-anchor="end" fill="#000" >0</text>
<line x1="1060.5" y1="946.2" x2="1067" y2="946.2" stroke="#000" stroke-width="1.6"/>
<text x="1047.5" y="952.4" font-size="21" font-family="Carlito, Calibri, 'Liberation Sans', sans-serif" text-anchor="end" fill="#000" >0.5</text>
<line x1="1060.5" y1="872" x2="1067" y2="872" stroke="#000" stroke-width="1.6"/>
<text x="1047.5" y="878.2" font-size="21" font-family="Carlito, Calibri, 'Liberation Sans', sans-serif" text-anchor="end" fill="#000" >1</text>
<line x1="1060.5" y1="797.8" x2="1067" y2="797.8" stroke="#000" stroke-width="1.6"/>
<text x="1047.5" y="804" font-size="21" font-family="Carlito, Calibri, 'Liberation Sans', sans-serif" text-anchor="end" fill="#000" >1.5</text>
<line x1="1060.5" y1="723.6" x2="1067" y2="723.6" stroke="#000" stroke-width="1.6"/>
<text x="1047.5" y="729.8" font-size="21" font-family="Carlito, Calibri, 'Liberation Sans', sans-serif" text-anchor="end" fill="#000" >2</text>
<line x1="1060.5" y1="649.4" x2="1067" y2="649.4" stroke="#000" stroke-width="1.6"/>
<text x="1047.5" y="655.6" font-size="21" font-family="Carlito, Calibri, 'Liberation Sans', sans-serif" text-anchor="end" fill="#000" >2.5</text>
<rect x="1075.18" y="1017.57" width="19.3" height="2.83" fill="#000"/>
<line x1="1084.83" y1="1018.17" x2="1084.83" y2="1017.43" stroke="#404040" stroke-width="1.4"/>
<line x1="1079.13" y1="1017.43" x2="1090.53" y2="1017.43" stroke="#404040" stroke-width="1.6"/>
<rect x="1110.84" y="1017.43" width="19.3" height="2.97" fill="#000"/>
<line x1="1120.49" y1="1018.03" x2="1120.49" y2="1017.28" stroke="#404040" stroke-width="1.4"/>
<line x1="1114.79" y1="1017.28" x2="1126.19" y2="1017.28" stroke="#404040" stroke-width="1.6"/>
<rect x="1146.5" y="1017.57" width="19.3" height="2.83" fill="#000"/>
<line x1="1156.15" y1="1018.17" x2="1156.15" y2="1017.43" stroke="#404040" stroke-width="1.4"/>
<line x1="1150.45" y1="1017.43" x2="1161.85" y2="1017.43" stroke="#404040" stroke-width="1.6"/>
<rect x="1182.16" y="1017.43" width="19.3" height="2.97" fill="#000"/>
<line x1="1191.81" y1="1018.03" x2="1191.81" y2="1017.28" stroke="#404040" stroke-width="1.4"/>
<line x1="1186.11" y1="1017.28" x2="1197.51" y2="1017.28" stroke="#404040" stroke-width="1.6"/>
<rect x="1217.82" y="1017.57" width="19.3" height="2.83" fill="#000"/>
<line x1="1227.47" y1="1018.17" x2="1227.47" y2="1017.43" stroke="#404040" stroke-width="1.4"/>
<line x1="1221.77" y1="1017.43" x2="1233.17" y2="1017.43" stroke="#404040" stroke-width="1.6"/>
<rect x="1253.48" y="1015.79" width="19.3" height="4.61" fill="#000"/>
<line x1="1263.13" y1="1016.39" x2="1263.13" y2="1015.21" stroke="#404040" stroke-width="1.4"/>
<line x1="1257.43" y1="1015.21" x2="1268.83" y2="1015.21" stroke="#404040" stroke-width="1.6"/>
<rect x="1289.14" y="1017.57" width="19.3" height="2.83" fill="#000"/>
<line x1="1298.79" y1="1018.17" x2="1298.79" y2="1017.43" stroke="#404040" stroke-width="1.4"/>
<line x1="1293.09" y1="1017.43" x2="1304.49" y2="1017.43" stroke="#404040" stroke-width="1.6"/>
<rect x="1324.8" y="1017.72" width="19.3" height="2.68" fill="#000"/>
<line x1="1334.45" y1="1018.32" x2="1334.45" y2="1017.73" stroke="#404040" stroke-width="1.4"/>
<line x1="1328.75" y1="1017.73" x2="1340.15" y2="1017.73" stroke="#404040" stroke-width="1.6"/>
<rect x="1360.46" y="1017.72" width="19.3" height="2.68" fill="#000"/>
<line x1="1370.11" y1="1018.32" x2="1370.11" y2="1017.73" stroke="#404040" stroke-width="1.4"/>
<line x1="1364.41" y1="1017.73" x2="1375.81" y2="1017.73" stroke="#404040" stroke-width="1.6"/>
<rect x="1396.12" y="841.27" width="19.3" height="179.13" fill="#000"/>
<line x1="1405.77" y1="841.87" x2="1405.77" y2="823.92" stroke="#404040" stroke-width="1.4"/>
<line x1="1400.07" y1="823.92" x2="1411.47" y2="823.92" stroke="#404040" stroke-width="1.6"/>
<rect x="1431.78" y="1017.57" width="19.3" height="2.83" fill="#000"/>
<line x1="1441.43" y1="1018.17" x2="1441.43" y2="1017.58" stroke="#404040" stroke-width="1.4"/>
<line x1="1435.73" y1="1017.58" x2="1447.13" y2="1017.58" stroke="#404040" stroke-width="1.6"/>
<rect x="1467.44" y="1016.83" width="19.3" height="3.57" fill="#000"/>
<line x1="1477.09" y1="1017.43" x2="1477.09" y2="1016.54" stroke="#404040" stroke-width="1.4"/>
<line x1="1471.39" y1="1016.54" x2="1482.79" y2="1016.54" stroke="#404040" stroke-width="1.6"/>
<rect x="1503.1" y="1017.43" width="19.3" height="2.97" fill="#000"/>
<line x1="1512.75" y1="1018.03" x2="1512.75" y2="1017.43" stroke="#404040" stroke-width="1.4"/>
<line x1="1507.05" y1="1017.43" x2="1518.45" y2="1017.43" stroke="#404040" stroke-width="1.6"/>
<rect x="1538.76" y="1017.43" width="19.3" height="2.97" fill="#000"/>
<line x1="1548.41" y1="1018.03" x2="1548.41" y2="1017.43" stroke="#404040" stroke-width="1.4"/>
<line x1="1542.71" y1="1017.43" x2="1554.11" y2="1017.43" stroke="#404040" stroke-width="1.6"/>
<rect x="1574.42" y="711.57" width="19.3" height="308.83" fill="#000"/>
<line x1="1584.07" y1="712.17" x2="1584.07" y2="702.53" stroke="#404040" stroke-width="1.4"/>
<line x1="1578.37" y1="702.53" x2="1589.77" y2="702.53" stroke="#404040" stroke-width="1.6"/>
<line x1="1067" y1="1020.4" x2="1067" y2="648.6" stroke="#000" stroke-width="1.7"/>
<line x1="1060.5" y1="1020.4" x2="1602.7" y2="1020.4" stroke="#000" stroke-width="1.7"/>
<line x1="1067" y1="1020.4" x2="1067" y2="1027.4" stroke="#000" stroke-width="1.6"/>
<line x1="1102.66" y1="1020.4" x2="1102.66" y2="1027.4" stroke="#000" stroke-width="1.6"/>
<line x1="1138.32" y1="1020.4" x2="1138.32" y2="1027.4" stroke="#000" stroke-width="1.6"/>
<line x1="1173.98" y1="1020.4" x2="1173.98" y2="1027.4" stroke="#000" stroke-width="1.6"/>
<line x1="1209.64" y1="1020.4" x2="1209.64" y2="1027.4" stroke="#000" stroke-width="1.6"/>
<line x1="1245.3" y1="1020.4" x2="1245.3" y2="1027.4" stroke="#000" stroke-width="1.6"/>
<line x1="1280.96" y1="1020.4" x2="1280.96" y2="1027.4" stroke="#000" stroke-width="1.6"/>
<line x1="1316.62" y1="1020.4" x2="1316.62" y2="1027.4" stroke="#000" stroke-width="1.6"/>
<line x1="1352.28" y1="1020.4" x2="1352.28" y2="1027.4" stroke="#000" stroke-width="1.6"/>
<line x1="1387.94" y1="1020.4" x2="1387.94" y2="1027.4" stroke="#000" stroke-width="1.6"/>
<line x1="1423.6" y1="1020.4" x2="1423.6" y2="1027.4" stroke="#000" stroke-width="1.6"/>
<line x1="1459.26" y1="1020.4" x2="1459.26" y2="1027.4" stroke="#000" stroke-width="1.6"/>
<line x1="1494.92" y1="1020.4" x2="1494.92" y2="1027.4" stroke="#000" stroke-width="1.6"/>
<line x1="1530.58" y1="1020.4" x2="1530.58" y2="1027.4" stroke="#000" stroke-width="1.6"/>
<line x1="1566.24" y1="1020.4" x2="1566.24" y2="1027.4" stroke="#000" stroke-width="1.6"/>
<line x1="1601.9" y1="1020.4" x2="1601.9" y2="1027.4" stroke="#000" stroke-width="1.6"/>
<text transform="translate(1090.53,1048.2) rotate(-45)" x="0" y="0" font-size="21" font-family="Carlito, Calibri, 'Liberation Sans', sans-serif" text-anchor="end" fill="#000">P1</text>
<text transform="translate(1126.19,1048.2) rotate(-45)" x="0" y="0" font-size="21" font-family="Carlito, Calibri, 'Liberation Sans', sans-serif" text-anchor="end" fill="#000">P2</text>
<text transform="translate(1161.85,1048.2) rotate(-45)" x="0" y="0" font-size="21" font-family="Carlito, Calibri, 'Liberation Sans', sans-serif" text-anchor="end" fill="#000">P3</text>
<text transform="translate(1197.51,1048.2) rotate(-45)" x="0" y="0" font-size="21" font-family="Carlito, Calibri, 'Liberation Sans', sans-serif" text-anchor="end" fill="#000">P4</text>
<text transform="translate(1233.17,1048.2) rotate(-45)" x="0" y="0" font-size="21" font-family="Carlito, Calibri, 'Liberation Sans', sans-serif" text-anchor="end" fill="#000">P5</text>
<text transform="translate(1268.83,1048.2) rotate(-45)" x="0" y="0" font-size="21" font-family="Carlito, Calibri, 'Liberation Sans', sans-serif" text-anchor="end" fill="#000">P6</text>
<text transform="translate(1304.49,1048.2) rotate(-45)" x="0" y="0" font-size="21" font-family="Carlito, Calibri, 'Liberation Sans', sans-serif" text-anchor="end" fill="#000">P7</text>
<text transform="translate(1340.15,1048.2) rotate(-45)" x="0" y="0" font-size="21" font-family="Carlito, Calibri, 'Liberation Sans', sans-serif" text-anchor="end" fill="#000">P8</text>
<text transform="translate(1375.81,1048.2) rotate(-45)" x="0" y="0" font-size="21" font-family="Carlito, Calibri, 'Liberation Sans', sans-serif" text-anchor="end" fill="#000">P9</text>
<text transform="translate(1411.47,1048.2) rotate(-45)" x="0" y="0" font-size="21" font-family="Carlito, Calibri, 'Liberation Sans', sans-serif" text-anchor="end" fill="#000">P10</text>
<text transform="translate(1447.13,1048.2) rotate(-45)" x="0" y="0" font-size="21" font-family="Carlito, Calibri, 'Liberation Sans', sans-serif" text-anchor="end" fill="#000">P11</text>
<text transform="translate(1482.79,1048.2) rotate(-45)" x="0" y="0" font-size="21" font-family="Carlito, Calibri, 'Liberation Sans', sans-serif" text-anchor="end" fill="#000">P12</text>
<text transform="translate(1518.45,1048.2) rotate(-45)" x="0" y="0" font-size="21" font-family="Carlito, Calibri, 'Liberation Sans', sans-serif" text-anchor="end" fill="#000">P13</text>
<text transform="translate(1554.11,1048.2) rotate(-45)" x="0" y="0" font-size="21" font-family="Carlito, Calibri, 'Liberation Sans', sans-serif" text-anchor="end" fill="#000">P14</text>
<text transform="translate(1589.77,1048.2) rotate(-45)" x="0" y="0" font-size="21" font-family="Carlito, Calibri, 'Liberation Sans', sans-serif" text-anchor="end" fill="#000">P15</text>
<text transform="translate(1009,834.5) rotate(-90)" x="0" y="0" font-size="21" font-family="Carlito, Calibri, 'Liberation Sans', sans-serif" text-anchor="middle" fill="#000">O.D. at 450 nm</text>
<rect x="1143.3" y="738.8" width="147.6" height="41" fill="#fff" stroke="#000" stroke-width="1.8"/>
<rect x="1166.3" y="752.6" width="13.2" height="13.4" fill="#000"/>
<text x="1183.3" y="765.7" font-size="21" font-family="Carlito, Calibri, 'Liberation Sans', sans-serif" text-anchor="start" fill="#000" >vitronectin</text>
</svg>
</body></html>
